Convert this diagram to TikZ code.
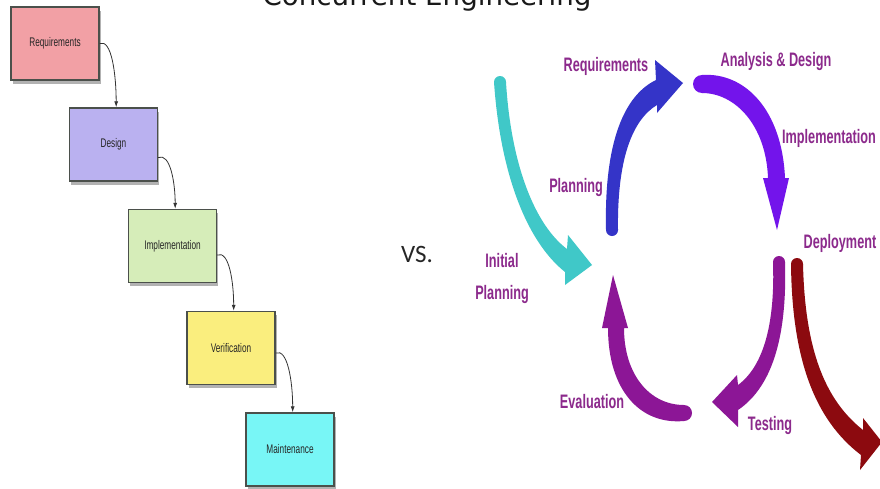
\documentclass[tikz,border=0pt]{standalone}
\usepackage{fontspec}
\usetikzlibrary{arrows.meta,shadows,calc}
\newfontfamily\boxfont[FakeStretch=0.66]{Liberation Sans}
\newfontfamily\labfont[FakeStretch=0.65]{Liberation Sans}
\newfontfamily\titlefont{DejaVu Sans}
\newfontfamily\vsfont{Carlito}
\definecolor{cReq}{RGB}{242,160,165}
\definecolor{cDes}{RGB}{186,177,240}
\definecolor{cImp}{RGB}{214,237,185}
\definecolor{cVer}{RGB}{250,238,126}
\definecolor{cMai}{RGB}{120,246,246}
\definecolor{boxline}{RGB}{75,80,75}
\definecolor{labpurple}{RGB}{140,42,140}
\definecolor{aTeal}{RGB}{64,200,200}
\definecolor{aBlue}{RGB}{52,52,200}
\definecolor{aViolet}{RGB}{115,20,235}
\definecolor{aPurple}{RGB}{140,22,150}
\definecolor{aRed}{RGB}{140,10,15}
\begin{document}
\begin{tikzpicture}[x=1pt,y=-1pt,
  wfbox/.style={draw=boxline, line width=1.4pt, minimum width=88pt, minimum height=73pt,
    inner sep=0pt, font=\boxfont\fontsize{12.5}{14}\selectfont, text=black!85,
    drop shadow={shadow xshift=1.5pt, shadow yshift=-3.5pt, opacity=0.3, fill=black}},
  wfarrow/.style={draw=black!80, line width=0.8pt, -{Latex[length=6pt,width=4pt]}},
  lab/.style={font=\labfont\bfseries\fontsize{19.5}{21}\selectfont, text=labpurple,
    inner sep=0pt, align=center}]
\useasboundingbox (0,0) rectangle (880,488);
\clip (0,0) rectangle (880,488);
\fill[white] (0,0) rectangle (880,488);

% title
\node[anchor=base, inner sep=0pt, font=\titlefont\fontsize{27.7}{30}\selectfont, text=black!90]
  (title) at (427,5) {Concurrent Engineering};

% waterfall
\node[wfbox, fill=cReq] (rq) at (55,43.5) {Requirements};
\node[wfbox, fill=cDes] (ds) at (113.5,144.5) {Design};
\node[wfbox, fill=cImp] (im) at (172.5,246) {Implementation};
\node[wfbox, fill=cVer] (vf) at (231,348) {Verification};
\node[wfbox, fill=cMai] (mt) at (290,449.5) {Maintenance};

\draw[wfarrow] (rq.east) .. controls +(12,-5) and +(0,-32) .. ($(ds.north west)!0.53!(ds.north east)$);
\draw[wfarrow] ($(ds.east)+(0,13)$) .. controls +(12,-5) and +(0,-26) .. ($(im.north west)!0.53!(im.north east)$);
\draw[wfarrow] ($(im.east)+(0,9)$) .. controls +(12,-5) and +(0,-28) .. ($(vf.north west)!0.53!(vf.north east)$);
\draw[wfarrow] ($(vf.east)+(0,5)$) .. controls +(12,-5) and +(0,-30) .. ($(mt.north west)!0.53!(mt.north east)$);

% vs
\node[font=\vsfont\fontsize{25}{28}\selectfont, text=black!85, inner sep=0pt] (vs) at (417,254) {VS.};

% cycle arrows
% teal: initial planning
\fill[aTeal] (494,82) .. controls (500,170) and (525,240) .. (565,272) -- (565,285) -- (592,265)
  -- (568,235) -- (567,249) .. controls (535,225) and (511,165) .. (506,82) -- cycle;
\fill[aTeal] (500,82) circle[radius=6];
% blue: planning -> requirements
\fill[aBlue] (606,230) .. controls (604,140) and (625,95) .. (656,80) -- (655,60) -- (683,83)
  -- (657,113) -- (657,105) .. controls (632,120) and (617,160) .. (618,230) -- cycle;
\fill[aBlue] (612,230) circle[radius=6];
% violet: analysis & design -> implementation
\fill[aViolet] (702,75) .. controls (745,72) and (782,110) .. (785,178) -- (789,178) -- (777,230)
  -- (763,178) -- (768,178) .. controls (766,125) and (735,93) .. (702,93) -- cycle;
\fill[aViolet] (702,84) circle[radius=9];
% purple: testing
\fill[aPurple] (785,262) .. controls (787,330) and (775,385) .. (738,410) -- (738,427) -- (712,402)
  -- (737,375) -- (738,385) .. controls (765,365) and (775,320) .. (773,262) -- cycle;
\fill[aPurple] (779,262) circle[radius=6];
% purple: evaluation
\fill[aPurple] (684,421) .. controls (640,425) and (608,390) .. (608,328) -- (602,328) -- (613,275)
  -- (628,328) -- (624,328) .. controls (624,375) and (650,405) .. (684,405) -- cycle;
\fill[aPurple] (684,413) circle[radius=8];
% dark red: deployment
\fill[aRed] (791,264) .. controls (792,360) and (815,420) .. (861,455) -- (860,470) -- (882,442)
  -- (863,418) -- (863,430) .. controls (825,400) and (805,350) .. (803,264) -- cycle;
\fill[aRed] (797,264) circle[radius=6];

% labels
\node[lab] (lreq) at (606,66) {Requirements};
\node[lab] (lana) at (776,61) {Analysis \& Design};
\node[lab] (limp) at (829,138) {Implementation};
\node[lab] (lpla) at (576,187) {Planning};
\node[lab] (ldep) at (840,243) {Deployment};
\node[lab, font=\labfont\bfseries\fontsize{19.5}{32}\selectfont] (lini) at (502,278) {Initial\\Planning};
\node[lab] (leva) at (592,402) {Evaluation};
\node[lab] (ltes) at (770,425) {Testing};
\end{tikzpicture}
\end{document}
